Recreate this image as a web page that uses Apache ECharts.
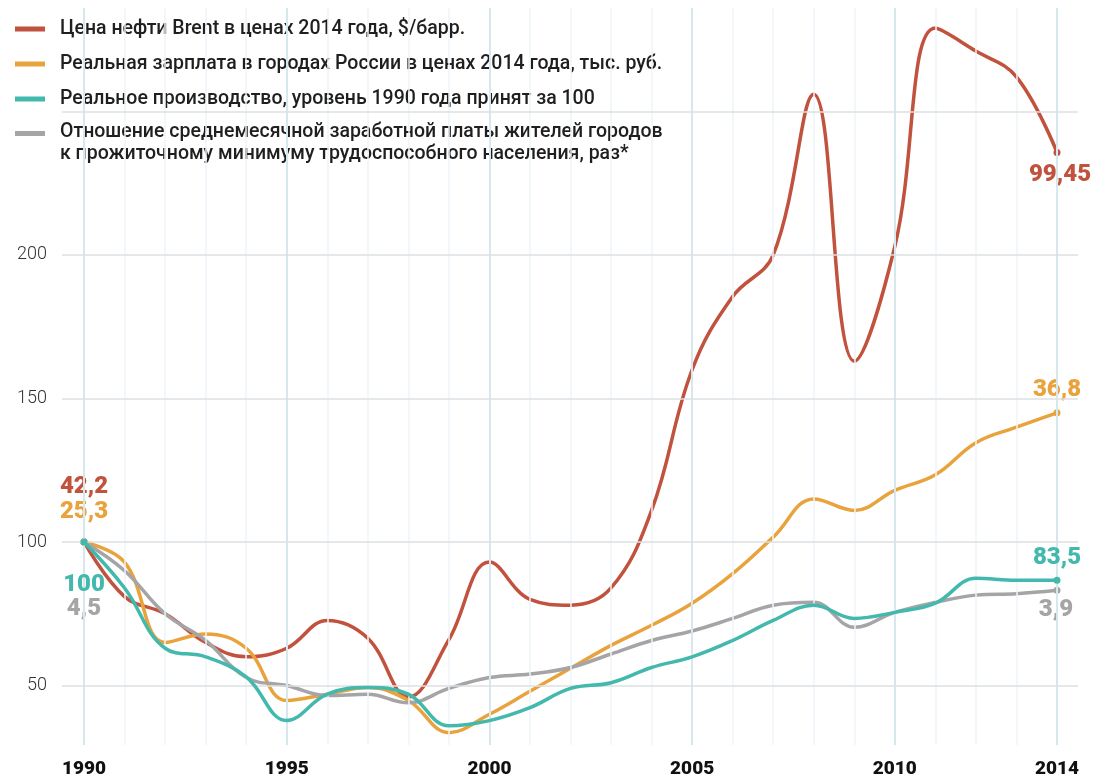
<!DOCTYPE html>
<html>
<head>
<meta charset="utf-8">
<title>Нефть, зарплата и производство</title>
<script src="https://cdn.jsdelivr.net/npm/echarts@6.0.0/dist/echarts.min.js"></script>
<style>
  html, body { margin: 0; padding: 0; background: #fff; }
  #chart { width: 1116px; height: 779px; }
</style>
</head>
<body>
<div id="chart"></div>
<script>
// Years on the x axis
const years = [1990, 1991, 1992, 1993, 1994, 1995, 1996, 1997, 1998, 1999, 2000, 2001, 2002,
  2003, 2004, 2005, 2006, 2007, 2008, 2009, 2010, 2011, 2012, 2013, 2014];
const yearLabels = [1990, 1995, 2000, 2005, 2010, 2014];
const majorYears = [1990, 1995, 2000, 2005, 2010, 2014];
const valueLabels = [50, 100, 150, 200];
const gridValues = [50, 100, 150, 200, 250];

// Index values, 1990 = 100
const brent = [100, 81, 75, 65, 60, 63, 72.7, 66.5, 46, 66, 93, 80, 78, 84, 111, 160, 185.5, 200, 256, 163, 203, 279, 271, 262, 235.7];
const wage = [100, 93, 65, 68, 63, 44.8, 47, 49.3, 44.8, 33.6, 40, 48, 56, 64, 71, 78.7, 89, 101.7, 115, 111, 118, 123.4, 134.6, 140, 145];
const production = [100, 84, 63, 60, 53, 37.8, 47, 49.3, 47, 36, 37.8, 42.3, 49, 51, 56.3, 60, 65.7, 72.7, 78, 73.4, 75.5, 78.7, 87.4, 86.7, 86.7];
const ratio = [100, 90, 75, 65.7, 52.8, 50, 46.5, 47, 44, 49, 52.8, 54, 56.3, 61, 65.7, 69, 73.4, 78, 79, 70.3, 75.5, 79, 81.5, 82, 83.2];

const seriesNames = [
  "Цена нефти Brent в ценах 2014 года, $/барр.",
  "Реальная зарплата в городах России в ценах 2014 года, тыс. руб.",
  "Реальное производство, уровень 1990 года принят за 100",
  "Отношение среднемесячной заработной платы жителей городов\nк прожиточному минимуму трудоспособного населения, раз*",
];
const startLabels = ["42,2", "25,3", "100", "4,5"];
const endLabels = ["99,45", "36,8", "83,5", "3,9"];

const COLORS = ["#c1523d", "#e9a33c", "#43b9ae", "#a5a5a8"];
const FONT = "Roboto, 'Noto Sans', sans-serif";

// label offsets [start, end] relative to the end points
const LABEL_OFFSETS = [
  [[0, -55], [3, 23]],
  [[0, -30], [0, -23]],
  [[0, 43], [0, -22]],
  [[0, 67], [-1, 20]],
];
const Z_ORDER = [3, 3, 5, 4];

const chart = echarts.init(document.getElementById("chart"));

function endLabel(text, color, offset) {
  return {
    show: true,
    formatter: text,
    position: "inside",
    offset: offset,
    color: color,
    fontFamily: FONT,
    fontSize: 24,
    fontWeight: 900,
  };
}

function buildSeries(values, idx) {
  const color = COLORS[idx];
  const last = values.length - 1;
  const data = values.map((v, i) => {
    if (i === 0) {
      return {
        value: [years[i], v],
        symbol: "circle",
        symbolSize: 7,
        label: endLabel(startLabels[idx], color, LABEL_OFFSETS[idx][0]),
      };
    }
    if (i === last) {
      return {
        value: [years[i], v],
        symbol: "circle",
        symbolSize: 7,
        label: endLabel(endLabels[idx], color, LABEL_OFFSETS[idx][1]),
      };
    }
    return [years[i], v];
  });
  return {
    name: seriesNames[idx],
    type: "line",
    smooth: 0.4,
    symbol: "none",
    z: Z_ORDER[idx],
    silent: true,
    lineStyle: { color: color, width: 3.5 },
    itemStyle: { color: color },
    emphasis: { disabled: true },
    data: data,
  };
}

// legend icons: a bar, with invisible corner marks so every icon has the same box
const BAR_MID = "path://M0,0H0.01V0.01H0Z M0,10.5H30V15.5H0Z M29.99,25.99H30V26H29.99Z";
const BAR_TOP = "path://M0,0H0.01V0.01H0Z M0,1H30V6H0Z M29.99,25.99H30V26H29.99Z";

const gridSeries = {
  name: "grid",
  type: "line",
  data: [],
  z: 1,
  silent: true,
  markLine: {
    silent: true,
    symbol: ["none", "none"],
    label: { show: false },
    animation: false,
    data: [
      ...years.map((y) => ({
        xAxis: y,
        lineStyle: {
          color: majorYears.includes(y) ? "#d6e7ed" : "#edf5f8",
          width: majorYears.includes(y) ? 2 : 1.5,
          type: "solid",
        },
      })),
      ...gridValues.map((v) => ({
        yAxis: v,
        lineStyle: { color: "#dbe0e2", width: 1.5, type: "solid" },
      })),
    ],
  },
};

const option = {
  animation: false,
  backgroundColor: "#ffffff",
  grid: {
    left: 62,
    right: 38,
    top: 8,
    bottom: 34,
  },
  legend: {
    show: true,
    orient: "vertical",
    left: 15,
    top: 16,
    padding: 0,
    itemWidth: 30,
    itemHeight: 26,
    itemGap: 9,
    selectedMode: false,
    itemStyle: { borderWidth: 0 },
    textStyle: {
      fontFamily: FONT,
      fontSize: 19.5,
      fontWeight: 500,
      color: "#1f1f1f",
      lineHeight: 22,
      padding: [0, 0, 0, 10],
    },
    data: seriesNames.map((name, i) => ({
      name: name,
      icon: i === 3 ? BAR_TOP : BAR_MID,
    })),
  },
  xAxis: {
    type: "value",
    min: 1989.457,
    max: 2014.518,
    axisLine: { show: false },
    axisTick: { show: false },
    splitLine: { show: false },
    axisLabel: {
      customValues: yearLabels,
      margin: 15,
      color: "#111",
      fontFamily: FONT,
      fontSize: 19,
      fontWeight: 900,
      formatter: (v) => String(v),
    },
  },
  yAxis: {
    type: "value",
    min: 29.3,
    max: 286,
    axisLine: { show: false },
    axisTick: { show: false },
    splitLine: { show: false },
    axisLabel: {
      customValues: valueLabels,
      margin: 15,
      color: "#333",
      fontFamily: FONT,
      fontSize: 18,
      fontWeight: 300,
    },
  },
  series: [
    gridSeries,
    buildSeries(brent, 0),
    buildSeries(wage, 1),
    buildSeries(production, 2),
    buildSeries(ratio, 3),
  ],
};

chart.setOption(option);
</script>
</body>
</html>
